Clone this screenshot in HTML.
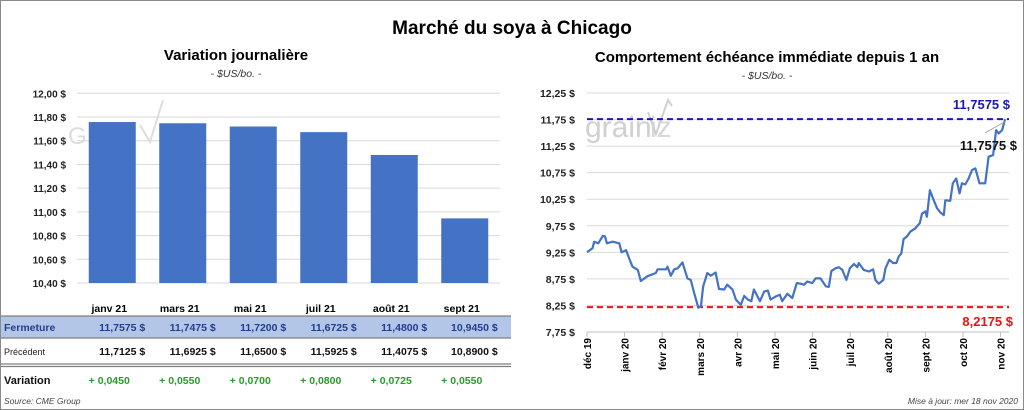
<!DOCTYPE html>
<html><head><meta charset="utf-8"><style>
body{margin:0;background:#fff;}
svg{display:block;font-family:"Liberation Sans",sans-serif;}
</style></head><body>
<svg width="1024" height="410" viewBox="0 0 1024 410">
<rect x="0.5" y="0.5" width="1023" height="409" fill="#fff" stroke="#8a8a8a"/>
<text x="512" y="34" text-anchor="middle" font-size="19" font-weight="bold">Marché du soya à Chicago</text>
<text x="236" y="60" text-anchor="middle" font-size="15" font-weight="bold">Variation  journalière</text>
<text x="236" y="77" text-anchor="middle" font-size="10.5" font-style="italic" fill="#333">- $US/bo. -</text>
<text x="767" y="62" text-anchor="middle" font-size="15" font-weight="bold">Comportement échéance immédiate depuis 1 an</text>
<text x="767" y="79" text-anchor="middle" font-size="10.5" font-style="italic" fill="#333">- $US/bo. -</text>
<g id="left"></g>
<g id="right"></g>
<text x="4" y="404" font-size="8.5" font-style="italic" fill="#444">Source: CME Group</text>
<text x="1018" y="404" text-anchor="end" font-size="8.5" font-style="italic" fill="#444">Mise à jour: mer 18 nov 2020</text>
</svg>
<script>
const NS="http://www.w3.org/2000/svg";
const months=["janv 21","mars 21","mai 21","juil 21","août 21","sept 21"];
const closes=[11.7575,11.7475,11.72,11.6725,11.48,10.945];
const prevs=[11.7125,11.6925,11.65,11.5925,11.4075,10.89];
const leftTicks=[10.4,10.6,10.8,11.0,11.2,11.4,11.6,11.8,12.0];
const monthLabels=["déc 19","janv 20","févr 20","mars 20","avr 20","mai 20","juin 20","juil 20","août 20","sept 20","oct 20","nov 20"];
const rightTicks=[7.75,8.25,8.75,9.25,9.75,10.25,10.75,11.25,11.75,12.25];
const dateMonths=[0,.15,.19,.30,.42,.48,.53,.68,.86,.92,1.04,1.12,1.21,1.35,1.43,1.61,1.83,1.88,2.10,2.14,2.23,2.32,2.41,2.54,2.67,2.76,2.85,2.96,3.03,3.09,3.20,3.29,3.42,3.51,3.65,3.73,3.87,3.96,4.09,4.18,4.28,4.37,4.44,4.60,4.71,4.81,4.88,5.02,5.13,5.19,5.33,5.46,5.58,5.68,5.77,5.86,5.99,6.08,6.21,6.35,6.43,6.50,6.61,6.70,6.79,6.90,6.99,7.10,7.19,7.23,7.36,7.50,7.61,7.67,7.76,7.88,7.94,8.04,8.14,8.23,8.29,8.36,8.42,8.51,8.60,8.73,8.85,8.91,9.00,9.04,9.12,9.20,9.31,9.40,9.49,9.53,9.66,9.73,9.82,9.91,9.97,10.06,10.15,10.24,10.33,10.44,10.59,10.68,10.80,10.88,10.95,11.04,11.12];
const prices=[9.25,9.33,9.45,9.42,9.56,9.55,9.42,9.45,9.42,9.25,9.29,9.14,8.98,8.92,8.71,8.80,8.86,8.93,8.93,8.98,8.81,8.93,8.95,9.06,8.76,8.73,8.48,8.21,8.23,8.61,8.86,8.81,8.87,8.56,8.55,8.64,8.55,8.36,8.26,8.43,8.36,8.33,8.55,8.33,8.51,8.53,8.36,8.42,8.45,8.33,8.47,8.39,8.67,8.66,8.64,8.70,8.67,8.76,8.76,8.61,8.60,8.90,8.95,8.97,8.92,8.73,8.95,9.03,8.97,9.05,8.92,8.89,8.93,8.73,8.66,8.73,8.95,9.11,9.05,9.05,9.17,9.23,9.50,9.55,9.64,9.70,9.80,9.98,10.02,9.92,10.42,10.27,10.08,10.00,9.95,10.23,10.22,10.55,10.64,10.36,10.55,10.53,10.64,10.80,10.83,10.55,10.55,11.05,11.08,11.55,11.49,11.55,11.7575];
const highVal=11.7575, lowVal=8.2175;
function mk(tag,attrs,parent,txt){const e=document.createElementNS(NS,tag);for(const k in attrs)e.setAttribute(k,attrs[k]);if(txt!==undefined)e.textContent=txt;parent.appendChild(e);return e;}
const fmt=(v,d)=>v.toFixed(d).replace('.',',');
// LEFT
const L=document.getElementById('left');
const lx0=77,lx1=500,ly0=283,ly1=93.3;
const ly=v=>ly0-(v-10.4)/(12.0-10.4)*(ly0-ly1);
const band=(lx1-lx0)/months.length;
const lcx=i=>lx0+band*(i+0.5);
mk('text',{x:68,y:144,'font-size':'24','fill':'#dddddd'},L,'G');
mk('polyline',{points:'140,125 150,142 163,100',fill:'none',stroke:'#dddddd','stroke-width':2},L);
leftTicks.forEach(t=>{
 const g=mk('line',{x1:lx0,x2:lx1,y1:ly(t),y2:ly(t),stroke:'#d9d9d9','stroke-width':1},L);
 
 const tx=mk('text',{x:66,y:ly(t)+4,'text-anchor':'end','font-size':'10','font-weight':'bold',fill:'#222'},L,fmt(t,2)+' $');
 
});
closes.forEach((v,i)=>{
 const b=mk('rect',{x:lcx(i)-23.5,y:ly(v),width:47,height:ly0-ly(v),fill:'#4472c4'},L);
 
});
const fr=mk('rect',{x:1,y:316,width:510,height:22,fill:'#b4c6e7'},L);

[[1,316,'#7f7f7f'],[1,338,'#7f7f7f'],[1,364,'#7f7f7f'],[1,366.5,'#7f7f7f']].forEach(r=>{
 const l=mk('line',{x1:r[0],x2:511,y1:r[1],y2:r[1],stroke:r[2],'stroke-width':1.2},L);
 
});
mk('text',{x:4,y:331,'font-size':'10.5','font-weight':'bold',fill:'#1f3f8f'},L,'Fermeture');
mk('text',{x:4,y:355,'font-size':'9',fill:'#222'},L,'Précédent');
mk('text',{x:4,y:384,'font-size':'11','font-weight':'bold',fill:'#111'},L,'Variation');
months.forEach((m,i)=>{
 const cx=lcx(i);
 const h=mk('text',{x:cx-3,y:312,'text-anchor':'middle','font-size':'10.5','font-weight':'bold'},L,m);
 
 const c=mk('text',{x:cx+33,y:331,'text-anchor':'end','font-size':'10.5','font-weight':'bold',fill:'#1f3f8f'},L,fmt(closes[i],4)+'  $');
 
 const p=mk('text',{x:cx+33,y:355,'text-anchor':'end','font-size':'10.5','font-weight':'bold',fill:'#111'},L,fmt(prevs[i],4)+'  $');
 
 const d=closes[i]-prevs[i];
 const v=mk('text',{x:cx-3,y:384,'text-anchor':'middle','font-size':'10.5','font-weight':'bold',fill:'#2a9a2a'},L,'+ '+fmt(d,4));
 
});
// RIGHT
const R=document.getElementById('right');
const rx0=587,rx1=1009,ry0=332,ry1=93;
const ry=v=>ry1+(12.25-v)*(ry0-ry1)/4.5;
const rx=m=>rx0+m*37.6;
mk('text',{x:585,y:137,'font-size':'30',fill:'#d0d0d0'},R,'grain');
mk('text',{x:650,y:137,'font-size':'30',fill:'#d8d8d8'},R,'   iz');
mk('polyline',{points:'648,112 656,134 668,100 672,106',fill:'none',stroke:'#d0d0d0','stroke-width':2},R);
rightTicks.forEach(t=>{
 const g=mk('line',{x1:rx0,x2:rx1,y1:ry(t),y2:ry(t),stroke:'#d9d9d9','stroke-width':1},R);
 
 const tx=mk('text',{x:575,y:ry(t)+4,'text-anchor':'end','font-size':'10.5','font-weight':'bold',fill:'#222'},R,fmt(t,2)+' $');
 
});
mk('line',{x1:rx0,x2:rx1,y1:ry0,y2:ry0,stroke:'#bfbfbf'},R);
monthLabels.forEach((m,i)=>{
 const x=rx(i);
 mk('line',{x1:x,x2:x,y1:ry0,y2:ry0+5,stroke:'#bfbfbf'},R);
 const t=mk('text',{x:0,y:0,'text-anchor':'end','font-size':'10','font-weight':'bold',transform:`translate(${x+4},${ry0+6}) rotate(-90)`},R,m);
 
});
const hl=mk('line',{x1:rx0,x2:rx1,y1:ry(highVal),y2:ry(highVal),stroke:'#1a1ab0','stroke-width':2,'stroke-dasharray':'6,4'},R);

const ll=mk('line',{x1:rx0,x2:rx1,y1:ry(lowVal),y2:ry(lowVal),stroke:'#ee1111','stroke-width':2,'stroke-dasharray':'6,4'},R);

const pts=dateMonths.map((m,i)=>rx(m).toFixed(1)+','+ry(prices[i]).toFixed(1)).join(' ');
const pl=mk('polyline',{points:pts,fill:'none',stroke:'#4472c4','stroke-width':2.2,'stroke-linejoin':'round'},R);

mk('line',{x1:985,y1:133,x2:1006,y2:121,stroke:'#a6a6a6'},R);
const t1=mk('text',{x:1010,y:109,'text-anchor':'end','font-size':'13','font-weight':'bold',fill:'#1a1ab0'},R,fmt(highVal,4)+' $');

const t2=mk('text',{x:1017,y:150,'text-anchor':'end','font-size':'13','font-weight':'bold',fill:'#111'},R,fmt(prices[prices.length-1],4)+' $');

const t3=mk('text',{x:1013,y:326,'text-anchor':'end','font-size':'13','font-weight':'bold',fill:'#ee1111'},R,fmt(lowVal,4)+' $');

</script>
</body></html>
